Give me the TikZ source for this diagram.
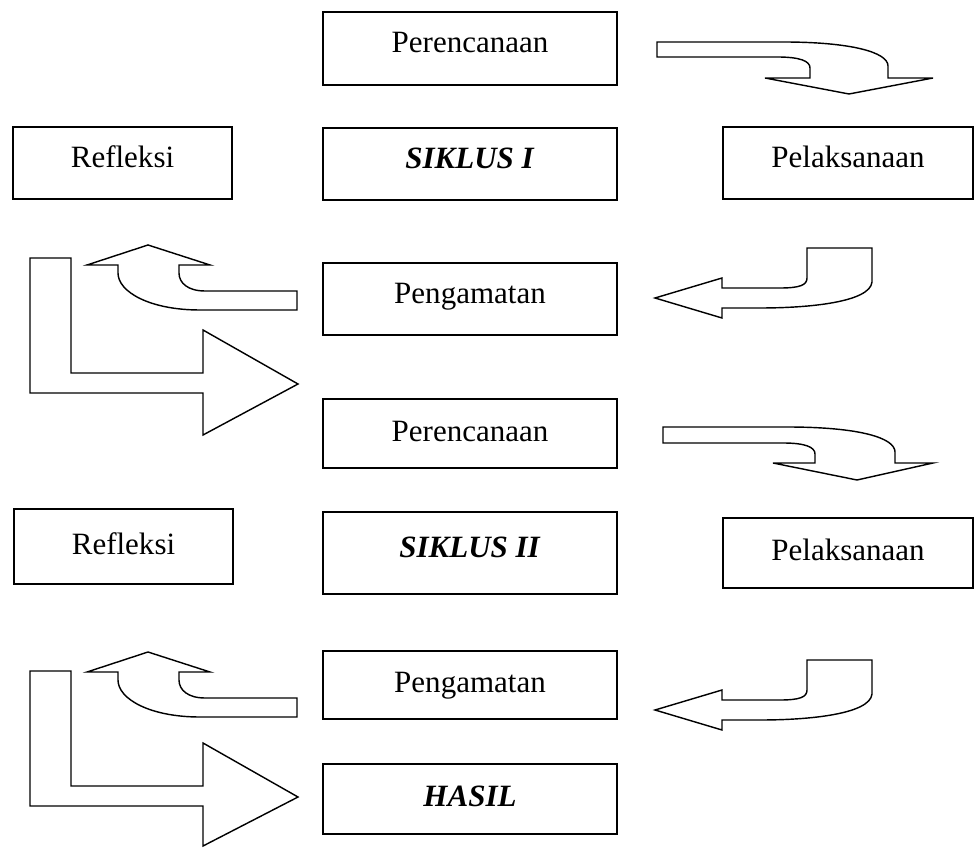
\documentclass[tikz,border=0pt]{standalone}
\usepackage{fontspec}
\setmainfont{Liberation Serif}
\usepackage{tikz}
\newdimen\pxu
\pxu=0.387pt
\tikzset{
  box/.style={draw,line width=0.55pt,inner sep=0pt,text height=8pt,text depth=2.1pt,font=\fontsize{12}{14}\selectfont},
  boxatas/.style={box,text depth=4.7pt},
  fatarrow/.style={draw,line width=0.55pt,line join=miter}
}

\begin{document}
\begin{tikzpicture}[x=0.387pt,y=-0.387pt]
  \useasboundingbox (0,0) rectangle (974,848);
  % siklus I
  \node[boxatas,minimum width=294\pxu,minimum height=73\pxu] (per1) at (470,48.5) {Perencanaan};
  \node[boxatas,minimum width=219\pxu,minimum height=72\pxu] (ref1) at (122.5,163) {Refleksi};
  \node[boxatas,minimum width=294\pxu,minimum height=72\pxu] (sik1) at (470,164) {\textbf{\textit{SIKLUS I}}};
  \node[boxatas,minimum width=250\pxu,minimum height=72\pxu] (pel1) at (848,163) {Pelaksanaan};
  \node[boxatas,minimum width=294\pxu,minimum height=72\pxu] (pen1) at (470,299) {Pengamatan};
  % siklus II
  \node[box,minimum width=294\pxu,minimum height=69\pxu] (per2) at (470,433.5) {Perencanaan};
  \node[box,minimum width=219\pxu,minimum height=75\pxu] (ref2) at (123.5,546.5) {Refleksi};
  \node[boxatas,minimum width=294\pxu,minimum height=82\pxu] (sik2) at (470,553) {\textbf{\textit{SIKLUS II}}};
  \node[box,minimum width=250\pxu,minimum height=70\pxu] (pel2) at (848,553) {Pelaksanaan};
  \node[box,minimum width=294\pxu,minimum height=68\pxu] (pen2) at (470,685) {Pengamatan};
  \node[box,minimum width=294\pxu,minimum height=70\pxu] (has) at (470,799) {\textbf{\textit{HASIL}}};

  % panah perencanaan -> pelaksanaan
  \draw[fatarrow] (657,42) -- (783,42) .. controls (850,42) and (888,52) .. (888,66) -- (888,78) -- (933,78)
    -- (849,94) -- (765,78) -- (810,78) -- (810,68) .. controls (810,61) and (800,57) .. (777,57) -- (657,57) -- cycle;
  \draw[fatarrow] (663,427) -- (787,427) .. controls (860,427) and (895,438) .. (895,452) -- (895,463) -- (933,463)
    -- (857,480) -- (773,463) -- (815,463) -- (815,454) .. controls (815,447) and (805,443) .. (783,443) -- (663,443) -- cycle;
  % panah pelaksanaan -> pengamatan
  \draw[fatarrow] (807,248) -- (872,248) -- (872,282) .. controls (870,302) and (810,308) .. (760,308) -- (722,308)
    -- (722,318) -- (655,298) -- (722,278) -- (722,288) -- (780,288) .. controls (800,288) and (807,285) .. (807,278) -- cycle;
  \draw[fatarrow] (807,660) -- (872,660) -- (872,694) .. controls (870,714) and (810,720) .. (760,720) -- (722,720)
    -- (722,730) -- (655,710) -- (722,690) -- (722,700) -- (780,700) .. controls (800,700) and (807,697) .. (807,690) -- cycle;
  % panah pengamatan -> refleksi
  \draw[fatarrow] (297,291) -- (297,310) -- (200,310) .. controls (150,310) and (118,292) .. (118,273) -- (118,265)
    -- (87,265) -- (148,245) -- (210,265) -- (179,265) -- (179,273) .. controls (179,283) and (188,291) .. (205,291) -- cycle;
  \draw[fatarrow] (297,698) -- (297,717) -- (200,717) .. controls (150,717) and (118,699) .. (118,680) -- (118,672)
    -- (87,672) -- (148,652) -- (210,672) -- (179,672) -- (179,680) .. controls (179,690) and (188,698) .. (205,698) -- cycle;
  % panah refleksi -> siklus berikutnya
  \draw[fatarrow] (30,258) -- (71,258) -- (71,373) -- (203,373) -- (203,330) -- (298,384) -- (203,435) -- (203,393) -- (30,393) -- cycle;
  \draw[fatarrow] (30,671) -- (71,671) -- (71,786) -- (203,786) -- (203,743) -- (298,797) -- (203,846) -- (203,806) -- (30,806) -- cycle;
\end{tikzpicture}
\end{document}
